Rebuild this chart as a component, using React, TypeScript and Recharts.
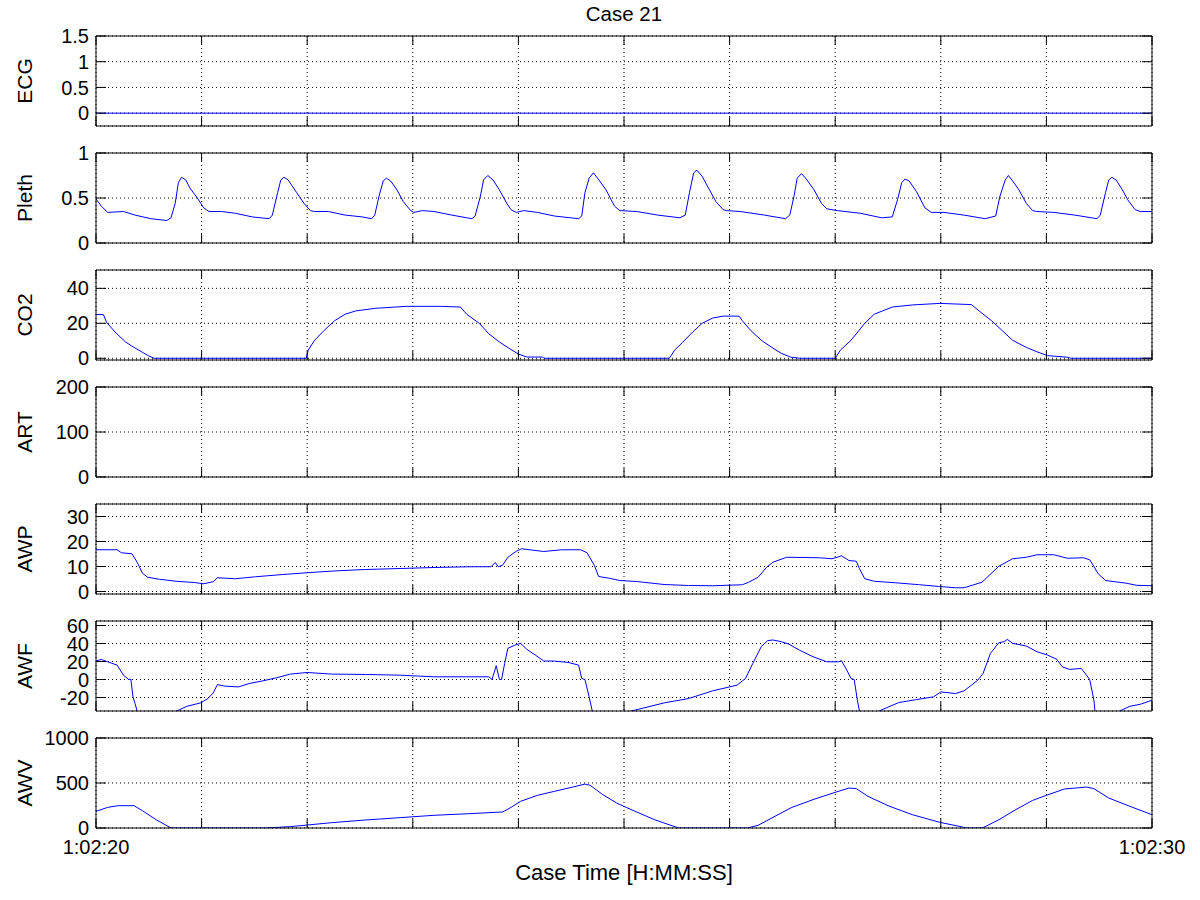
import React from 'react';
import { LineChart, Line, XAxis, YAxis, CartesianGrid } from 'recharts';

type Pt = [number, number];

const FONT = '"Liberation Sans", Arial, Helvetica, sans-serif';

const chartTitle = 'Case 21';
const xAxisTitle = 'Case Time [H:MM:SS]';
const timeTicks = [0, 1, 2, 3, 4, 5, 6, 7, 8, 9, 10];
const timeTickLabels: Record<number, string> = { 0: '1:02:20', 10: '1:02:30' };

const ecgData: Pt[] = [[0, 0], [10, 0]];

const plethData: Pt[] = [
  [0, 0.49], [0.05, 0.41], [0.11, 0.34], [0.26, 0.35], [0.37, 0.31], [0.52, 0.27], [0.67, 0.25], [0.71, 0.28],
  [0.75, 0.44], [0.78, 0.67], [0.81, 0.73], [0.85, 0.70], [0.89, 0.61], [0.96, 0.50], [1.02, 0.39], [1.07, 0.35],
  [1.19, 0.35], [1.32, 0.33], [1.48, 0.29], [1.64, 0.27], [1.67, 0.31], [1.72, 0.56], [1.75, 0.70], [1.78, 0.73],
  [1.82, 0.70], [1.90, 0.56], [1.97, 0.44], [2.03, 0.36], [2.07, 0.35],
  [2.20, 0.35], [2.36, 0.31], [2.52, 0.29], [2.61, 0.27], [2.64, 0.31], [2.68, 0.52], [2.72, 0.69], [2.75, 0.72],
  [2.79, 0.69], [2.85, 0.59], [2.91, 0.46], [2.98, 0.36], [3.01, 0.34],
  [3.09, 0.36], [3.20, 0.35], [3.37, 0.31], [3.56, 0.27], [3.59, 0.30], [3.64, 0.52], [3.67, 0.70], [3.71, 0.75],
  [3.76, 0.70], [3.82, 0.59], [3.89, 0.44], [3.93, 0.37], [3.98, 0.34],
  [4.05, 0.36], [4.18, 0.34], [4.34, 0.30], [4.57, 0.27], [4.60, 0.30], [4.63, 0.56], [4.67, 0.72], [4.71, 0.78],
  [4.75, 0.72], [4.83, 0.59], [4.91, 0.41], [4.96, 0.36],
  [5.12, 0.35], [5.32, 0.31], [5.53, 0.28], [5.58, 0.31], [5.62, 0.56], [5.66, 0.78], [5.69, 0.81], [5.74, 0.74],
  [5.81, 0.59], [5.87, 0.46], [5.94, 0.37], [5.97, 0.36],
  [6.10, 0.35], [6.33, 0.31], [6.53, 0.27], [6.57, 0.31], [6.61, 0.52], [6.64, 0.72], [6.68, 0.77], [6.72, 0.72],
  [6.80, 0.59], [6.87, 0.44], [6.92, 0.38],
  [7.02, 0.36], [7.24, 0.33], [7.44, 0.28], [7.54, 0.29], [7.59, 0.48], [7.63, 0.67], [7.66, 0.71], [7.70, 0.69],
  [7.77, 0.57], [7.85, 0.39], [7.91, 0.34],
  [8.03, 0.34], [8.22, 0.31], [8.42, 0.27], [8.52, 0.30], [8.56, 0.52], [8.61, 0.70], [8.64, 0.75], [8.68, 0.69],
  [8.74, 0.59], [8.81, 0.44], [8.87, 0.36], [8.91, 0.35],
  [9.07, 0.34], [9.27, 0.31], [9.48, 0.27], [9.51, 0.31], [9.56, 0.56], [9.59, 0.70], [9.62, 0.73], [9.66, 0.70],
  [9.72, 0.59], [9.77, 0.48], [9.84, 0.37], [9.89, 0.35], [10, 0.35],
];

const co2Data: Pt[] = [
  [0, 25], [0.07, 25], [0.10, 20.6], [0.18, 15], [0.28, 9.3], [0.36, 6.2], [0.44, 3.4], [0.50, 1.3], [0.55, 0],
  [1.99, 0], [2.01, 4.7], [2.07, 10.3], [2.16, 15.9], [2.26, 21.5], [2.36, 25.2], [2.46, 27.1], [2.65, 28.6],
  [2.94, 29.7], [3.27, 29.7], [3.45, 29.3], [3.51, 25.2], [3.63, 20], [3.72, 14], [3.82, 9.3], [3.92, 5.4],
  [4.0, 2.4], [4.08, 0.7], [4.23, 0.7], [4.24, 0], [5.43, 0], [5.48, 4.7], [5.55, 8.8], [5.65, 15], [5.74, 20],
  [5.84, 23], [5.94, 24.1], [6.09, 24.1], [6.12, 21.5], [6.20, 15.9], [6.30, 10.3], [6.40, 6.2], [6.49, 2.8],
  [6.58, 0.6], [6.66, 0], [7.0, 0], [7.05, 4.7], [7.15, 10.3], [7.28, 20], [7.37, 25.2], [7.54, 29.3],
  [7.73, 30.5], [7.99, 31.4], [8.29, 30.7], [8.37, 26.7], [8.48, 21.5], [8.58, 15.9], [8.68, 10.3], [8.81, 6.2],
  [8.91, 3.7], [9.01, 1.5], [9.20, 0.6], [9.23, 0], [10, 0],
];

const artData: Pt[] = [];

const awpData: Pt[] = [
  [0, 16.7], [0.20, 16.7], [0.24, 15.5], [0.34, 15.1], [0.39, 11.7], [0.44, 7.3], [0.49, 5.7], [0.60, 4.9],
  [0.76, 4.1], [0.93, 3.6], [1.02, 3.1], [1.11, 3.9], [1.15, 5.5], [1.32, 5.1], [1.51, 5.9], [1.77, 6.8],
  [2.03, 7.6], [2.29, 8.3], [2.55, 8.8], [2.88, 9.2], [3.20, 9.6], [3.53, 9.9], [3.74, 9.9], [3.78, 11.6],
  [3.81, 9.9], [3.85, 10.5], [3.90, 13.7], [3.98, 16.1], [4.03, 17.1], [4.24, 16], [4.41, 16.7], [4.59, 16.7],
  [4.65, 15.5], [4.72, 10.4], [4.76, 6], [4.86, 5.3], [4.96, 4.4], [5.12, 4], [5.38, 2.8], [5.61, 2.4],
  [5.84, 2.3], [6.12, 2.7], [6.18, 3.7], [6.27, 5.7], [6.35, 9.7], [6.41, 11.7], [6.54, 13.7], [6.85, 13.5],
  [6.97, 13.1], [7.02, 13.7], [7.06, 14.3], [7.13, 12.4], [7.20, 12.1], [7.23, 9.1], [7.28, 5.1], [7.37, 4.1],
  [7.57, 3.5], [7.80, 2.7], [7.99, 2.0], [8.14, 1.5], [8.22, 1.5], [8.39, 3.7], [8.55, 10.1], [8.68, 13.1],
  [8.81, 13.7], [8.91, 14.7], [9.07, 14.7], [9.20, 13.3], [9.35, 13.5], [9.41, 12.7], [9.45, 10], [9.49, 7.1],
  [9.56, 4.4], [9.76, 3.3], [9.85, 2.5], [10, 2.3],
];

const awfData: Pt[] = [
  [0, 20.5], [0.05, 22.3], [0.11, 19.7], [0.20, 16], [0.26, 4.8], [0.31, 0], [0.33, 0.4], [0.35, -19.3],
  [0.37, -26.8], [0.39, -35.3], [0.45, -48], [0.76, -35.3], [0.86, -29.8], [0.99, -26], [1.06, -21.2],
  [1.11, -14.9], [1.15, -5.6], [1.22, -7.4], [1.35, -8.2], [1.45, -4.5], [1.58, -1.5], [1.71, 1.9], [1.84, 6],
  [2.0, 7.8], [2.23, 6], [2.55, 5.6], [2.88, 4.8], [3.20, 3], [3.53, 3], [3.72, 3], [3.75, 0], [3.79, 15.3],
  [3.82, 0], [3.84, 0], [3.87, 17.9], [3.90, 34.6], [3.97, 38.3], [4.02, 40.2], [4.08, 33.5], [4.16, 27.2],
  [4.24, 20.5], [4.34, 20.5], [4.47, 19], [4.57, 16], [4.60, 1.1], [4.63, 0], [4.67, -19.3], [4.70, -35.3],
  [4.74, -44], [5.06, -35.3], [5.38, -26], [5.61, -21.2], [5.84, -12.6], [6.07, -6.3], [6.15, 1.1],
  [6.22, 17.9], [6.30, 36.5], [6.36, 43.2], [6.41, 43.9], [6.49, 42], [6.56, 39.4], [6.66, 32.7], [6.79, 25.3],
  [6.92, 19.7], [7.03, 19.7], [7.06, 20.8], [7.11, 10.4], [7.15, 1.1], [7.18, 0], [7.21, -23], [7.23, -35.3],
  [7.26, -45], [7.41, -35.3], [7.60, -25.7], [7.77, -22.3], [7.93, -19.3], [8.00, -13.8], [8.14, -15.6],
  [8.22, -12.6], [8.29, -6.3], [8.35, -0.7], [8.40, 6.7], [8.47, 29], [8.55, 40.9], [8.60, 42], [8.63, 44.6],
  [8.68, 40.2], [8.81, 37.2], [8.91, 30.9], [9.01, 27.2], [9.10, 22.3], [9.15, 14.1], [9.22, 11.2],
  [9.33, 12.3], [9.38, 4.8], [9.41, 0], [9.45, -23], [9.46, -35.3], [9.50, -45], [9.69, -35.3], [9.79, -29.8],
  [9.89, -27.5], [10, -23],
];

const awvData: Pt[] = [
  [0, 185], [0.11, 229], [0.21, 248], [0.36, 248], [0.44, 192], [0.57, 92], [0.70, 7], [0.72, 0], [1.60, 0],
  [1.67, 4], [1.84, 15], [2.0, 33], [2.23, 59], [2.55, 89], [2.88, 115], [3.20, 141], [3.53, 159], [3.85, 178],
  [3.92, 222], [4.02, 296], [4.18, 363], [4.34, 407], [4.50, 451], [4.63, 488], [4.68, 474], [4.80, 370],
  [4.93, 278], [5.02, 229], [5.12, 178], [5.29, 92], [5.50, 7], [5.52, 0], [6.17, 0], [6.27, 30], [6.43, 130],
  [6.59, 229], [6.79, 315], [6.98, 389], [7.13, 444], [7.20, 437], [7.31, 352], [7.50, 248], [7.73, 148],
  [7.99, 63], [8.19, 15], [8.24, 0], [8.39, 0], [8.42, 15], [8.55, 92], [8.71, 204], [8.87, 307], [9.0, 363],
  [9.17, 433], [9.38, 455], [9.45, 437], [9.59, 333], [9.79, 241], [10, 148],
];

type PanelDef = { name: string; data: Pt[]; domain: [number, number]; ticks: number[] };

const panels: PanelDef[] = [
  { name: 'ECG', data: ecgData, domain: [-0.25, 1.5], ticks: [0, 0.5, 1, 1.5] },
  { name: 'Pleth', data: plethData, domain: [0, 1], ticks: [0, 0.5, 1] },
  { name: 'CO2', data: co2Data, domain: [-1, 50.5], ticks: [0, 20, 40] },
  { name: 'ART', data: artData, domain: [0, 200], ticks: [0, 100, 200] },
  { name: 'AWP', data: awpData, domain: [-1, 35], ticks: [0, 10, 20, 30] },
  { name: 'AWF', data: awfData, domain: [-35, 65], ticks: [-20, 0, 20, 40, 60] },
  { name: 'AWV', data: awvData, domain: [0, 1000], ticks: [0, 500, 1000] },
];

const PLOT_LEFT = 96;
const PLOT_RIGHT_PAD = 48;
const PLOT_H = 90;
const FIRST_TOP = 36;
const STEP = 117;

const emptyTick = () => <g />;

function Panel({ p, index }: { p: PanelDef; index: number }) {
  const first = index === 0;
  const last = index === panels.length - 1;
  const T = first ? FIRST_TOP : 10;
  const B = last ? 72 : 10;
  const plotTop = FIRST_TOP + index * STEP;
  const rows = p.data.map(([t, v]) => ({ t, v }));

  const bottomTick = (tp: any) => {
    const lbl = last ? timeTickLabels[tp.payload.value] : undefined;
    if (!lbl) return <g />;
    return (
      <text x={tp.x} y={tp.y} dy="0.71em" textAnchor="middle" fontSize={20} fontFamily={FONT} fill="#000">
        {lbl}
      </text>
    );
  };

  const yLabel = (lp: any) => {
    const vb = lp.viewBox || {};
    const x = (vb.x ?? 0) + 32;
    const y = (vb.y ?? T) + (vb.height ?? PLOT_H) / 2;
    return (
      <text x={x} y={y} transform={`rotate(-90 ${x} ${y})`} textAnchor="middle" fontSize={21} fontFamily={FONT} fill="#000">
        {p.name}
      </text>
    );
  };

  const xLabel = (lp: any) => {
    const vb = lp.viewBox || {};
    const x = vb.x + vb.width / 2;
    const y = vb.y + 52;
    return (
      <text x={x} y={y} textAnchor="middle" fontSize={22} fontFamily={FONT} fill="#000">
        {xAxisTitle}
      </text>
    );
  };

  const titleLabel = (lp: any) => {
    const vb = lp.viewBox || {};
    const x = vb.x + vb.width / 2;
    const y = vb.y + 20.5;
    return (
      <text x={x} y={y} textAnchor="middle" fontSize={20.5} fontFamily={FONT} fill="#000">
        {chartTitle}
      </text>
    );
  };

  return (
    <div style={{ position: 'absolute', left: 0, top: plotTop - T }}>
      <LineChart width={1200} height={T + PLOT_H + B} data={rows} margin={{ top: 0, right: 0, bottom: 0, left: 0 }}>
        <CartesianGrid xAxisId="bottom" yAxisId="left" stroke="#000" strokeDasharray="1 3" fill="none" />
        <XAxis
          xAxisId="bottom"
          dataKey="t"
          type="number"
          domain={[0, 10]}
          ticks={timeTicks}
          interval={0}
          allowDataOverflow
          orientation="bottom"
          height={B}
          tickSize={-9}
          tickMargin={20.5}
          stroke="#000"
          tick={bottomTick}
          label={last ? { content: xLabel } : undefined}
        />
        <XAxis
          xAxisId="top"
          dataKey="t"
          type="number"
          domain={[0, 10]}
          ticks={timeTicks}
          interval={0}
          allowDataOverflow
          orientation="top"
          height={T}
          tickSize={-9}
          stroke="#000"
          tick={emptyTick}
          label={first ? { content: titleLabel } : undefined}
        />
        <YAxis
          yAxisId="left"
          type="number"
          domain={p.domain}
          ticks={p.ticks}
          interval={0}
          allowDataOverflow
          width={PLOT_LEFT}
          tickSize={-10}
          tickMargin={17}
          stroke="#000"
          tick={{ fill: '#000', fontSize: 20, fontFamily: FONT }}
          label={{ content: yLabel }}
        />
        <YAxis
          yAxisId="right"
          orientation="right"
          type="number"
          domain={p.domain}
          ticks={p.ticks}
          interval={0}
          allowDataOverflow
          width={PLOT_RIGHT_PAD}
          tickSize={-10}
          stroke="#000"
          tick={emptyTick}
        />
        {p.data.length > 0 && (
          <Line
            xAxisId="bottom"
            yAxisId="left"
            type="linear"
            dataKey="v"
            stroke="#0000ff"
            strokeWidth={1}
            dot={false}
            activeDot={false}
            isAnimationActive={false}
          />
        )}
      </LineChart>
    </div>
  );
}

export default function App() {
  return (
    <div style={{ position: 'absolute', left: 0, top: 0, width: 1200, height: 900, background: '#fff' }}>
      {panels.map((p, i) => (
        <Panel key={p.name} p={p} index={i} />
      ))}
    </div>
  );
}
